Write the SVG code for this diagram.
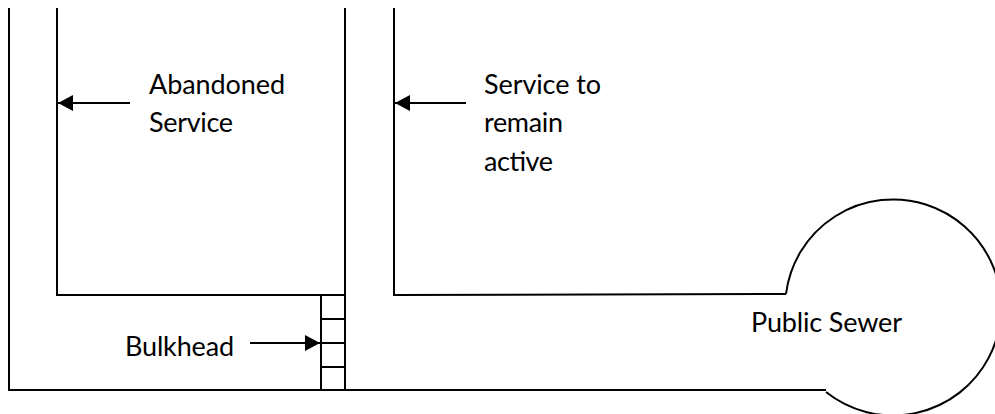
<svg xmlns="http://www.w3.org/2000/svg" width="995" height="414" viewBox="0 0 995 414">
<style>
.l{fill:none;stroke:#000;stroke-width:2}
text{font-family:"Lato","Open Sans","Liberation Sans",sans-serif;font-size:27px;fill:#000}
</style>
<defs><marker id="a" markerUnits="userSpaceOnUse" markerWidth="16" markerHeight="16" refX="15" refY="8" orient="auto"><path d="M0 0L15 8L0 16Z" fill="#000"/></marker></defs>
<rect width="995" height="414" fill="#fff"/>
<g id="connectors">
<path class="l" d="M9 8V390H826"/>
<path class="l" d="M57 8V295H345"/>
<path class="l" d="M345 8V391"/>
<path class="l" d="M394 8V295L786 294"/>
<path class="l" d="M130 103H58" marker-end="url(#a)"/>
<path class="l" d="M466 103H395" marker-end="url(#a)"/>
<path class="l" d="M250 343H320" marker-end="url(#a)"/>
</g>
<g id="bulkhead"><path class="l" d="M321 295V391M321 319H345M321 343H345M321 367H345"/><text x="125" y="356" textLength="109">Bulkhead</text></g>
<g id="sewer"><path class="l" d="M786 294A108 108 0 1 1 826 392"/><text x="751" y="332" textLength="151">Public Sewer</text></g>
<g id="abandoned"><text x="149" y="94" textLength="136">Abandoned</text><text x="149" y="132" textLength="84">Service</text></g>
<g id="active"><text x="484" y="94" textLength="117">Service to</text><text x="484" y="132" textLength="79">remain</text><text x="484" y="171" textLength="69">active</text></g>
</svg>
